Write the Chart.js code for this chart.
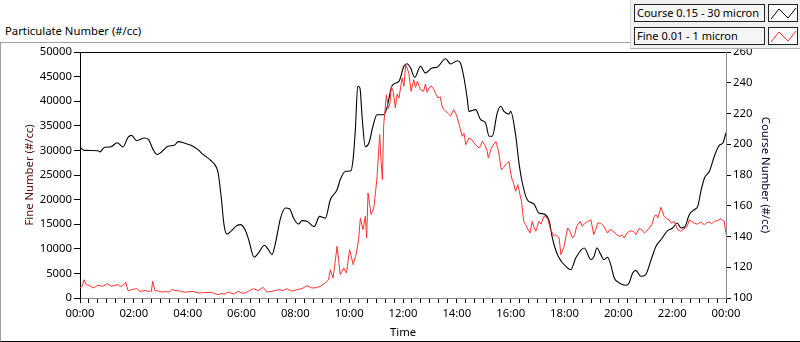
<!DOCTYPE html>
<html>
<head>
<meta charset="utf-8">
<script src="https://cdn.jsdelivr.net/npm/chart.js@4.4.1/dist/chart.umd.min.js"></script>
<style>
  body { margin: 0; background: #fff; font-family: "Segoe UI", "Noto Sans", sans-serif; }
  #wrap { position: relative; width: 800px; height: 342px; overflow: hidden; }
  #frame { position: absolute; left: 0; top: 42px; width: 820px; height: 300px; box-sizing: border-box;
           border-top: 1px solid #a0a0a0; border-left: 1px solid #a0a0a0; border-bottom: 1px solid #000; }
  #title { position: absolute; left: 5px; top: 23px; font-size: 11.3px; line-height: 16px; color: #000; }
  #chart { position: absolute; left: 0; top: 0; }
  #legend { position: absolute; left: 630px; top: 0; width: 170px; height: 49px; background: #f0f0f0;
            border-left: 1px solid #d8d8d8; border-bottom: 1px solid #b0b0b0; box-sizing: border-box; }
  .lab { position: absolute; left: 3px; width: 131px; height: 18px; box-sizing: border-box; border: 1px solid #222;
         background: #f6f6f6; font-size: 11px; line-height: 16px; padding-left: 2px; color: #000; white-space: nowrap; overflow: hidden; }
  .ico { position: absolute; left: 137px; width: 30px; height: 18px; box-sizing: border-box; border: 1px solid #222; background: #fcfcfc; }
</style>
</head>
<body>
<div id="wrap">
  <div id="frame"></div>
  <div id="title">Particulate Number (#/cc)</div>
  <canvas id="chart" width="800" height="342"></canvas>
  <div id="legend"></div>
</div>
<script>
// series names and colours
const seriesNames = ['Course 0.15 - 30 micron', 'Fine 0.01 - 1 micron'];
const seriesColors = ['#000000', '#ff3232'];

// x tick labels, every 2 hours (minutes since midnight)
const hourLabels = ['00:00', '02:00', '04:00', '06:00', '08:00', '10:00', '12:00',
                    '14:00', '16:00', '18:00', '20:00', '22:00', '00:00'];

// Course (right axis, #/cc)
const courseTimes = [0, 10, 40, 44, 55, 69, 83, 96, 107, 115, 126, 144, 153, 163, 172, 182, 196, 210, 219, 234,
  252, 263, 275, 290, 304, 308, 315, 321, 327, 338, 347, 357, 368, 376, 388, 398, 411, 420, 428, 435,
  447, 458, 467, 476, 487, 495, 506, 522, 534, 547, 558, 573, 580, 592, 604, 609, 614, 619, 624, 629,
  636, 644, 653, 662, 676, 683, 696, 711, 722, 729, 737, 746, 759, 770, 785, 796, 815, 826, 841, 848,
  856, 863, 867, 882, 893, 904, 912, 919, 930, 938, 945, 956, 960, 971, 979, 986, 997, 1012, 1023, 1034,
  1046, 1053, 1066, 1087, 1094, 1105, 1124, 1139, 1146, 1152, 1161, 1168, 1176, 1183, 1191, 1202, 1217, 1224, 1232, 1239,
  1250, 1261, 1273, 1284, 1295, 1310, 1321, 1331, 1340, 1349, 1358, 1369, 1377, 1384, 1392, 1403, 1414, 1425, 1433, 1440];
const courseValues = [198, 196, 195.8, 195, 198, 198.4, 201, 198.2, 204.5, 205.8, 202.3, 204.1, 203, 196.5, 193.3, 195, 198.7, 199.3, 201.7, 200.6,
  198.7, 196.5, 193.2, 189.8, 185.1, 181.3, 165, 147.7, 141.6, 143.8, 146.6, 147.7, 144.4, 137.9, 126.5, 129.3, 134.3, 131.4, 128.2, 134.7,
  152, 158.5, 158.1, 152, 148.1, 150.3, 149.9, 146.4, 153.1, 152, 163.9, 170.4, 176.9, 182.4, 182.8, 191.1, 210.6, 237.7, 236.6, 217.1,
  198.4, 200.8, 211.7, 219.2, 219.2, 222.5, 238.3, 240.9, 250.7, 252.4, 249.6, 243.5, 250.7, 246.3, 249.6, 250.1, 255.6, 252.2, 254.3, 252.8,
  243.1, 230.1, 221.4, 222.5, 216, 213.8, 205.2, 205.2, 220.3, 224.7, 221.4, 219.7, 221.4, 206.2, 186.7, 174.8, 163.9, 161.1, 155.3, 154.6,
  149.9, 139, 127.1, 119.5, 118.4, 126, 132.5, 124.9, 127.1, 132.5, 128.2, 124.9, 126.5, 121.7, 113, 109.8, 108.3, 109.8, 116.3, 118,
  114.1, 115.2, 124.9, 133.6, 137.9, 143.8, 145.5, 148.8, 145.5, 146.6, 154.2, 157.4, 159.6, 169.4, 178, 182.4, 192.2, 199.3, 200.8, 207.3];

// Fine (left axis, #/cc)
const fineTimes = [0, 5, 9, 14, 20, 29, 35, 40, 51, 61,
  70, 78, 85, 90, 96, 102, 107, 115, 126, 133,
  145, 152, 159, 162, 167, 175, 182, 190, 200, 205,
  212, 219, 227, 234, 243, 252, 263, 278, 293, 300,
  308, 315, 323, 330, 342, 353, 360, 368, 378, 387,
  397, 408, 417, 430, 443, 452, 461, 472, 484, 495,
  506, 517, 527, 536, 547, 554, 558, 564, 569, 573,
  577, 580, 588, 594, 601, 609, 616, 621, 625, 631,
  636, 639, 642, 649, 655, 662, 668, 671, 674, 677,
  683, 687, 691, 694, 698, 703, 707, 711, 718, 722,
  726, 733, 738, 744, 748, 752, 759, 766, 770, 774,
  778, 783, 789, 793, 798, 803, 808, 813, 819, 826,
  833, 839, 843, 848, 852, 856, 860, 867, 873, 878,
  884, 889, 893, 897, 902, 908, 910, 917, 921, 927,
  933, 939, 944, 949, 956, 962, 966, 971, 976, 984,
  989, 993, 997, 1003, 1008, 1012, 1016, 1023, 1028, 1034,
  1042, 1049, 1057, 1061, 1068, 1072, 1079, 1087, 1092, 1098,
  1103, 1107, 1115, 1119, 1124, 1131, 1139, 1145, 1150, 1154,
  1160, 1165, 1170, 1176, 1181, 1187, 1195, 1202, 1208, 1213,
  1220, 1228, 1234, 1239, 1246, 1252, 1258, 1263, 1269, 1275,
  1280, 1284, 1288, 1295, 1302, 1308, 1313, 1318, 1324, 1328,
  1332, 1339, 1344, 1350, 1354, 1358, 1363, 1369, 1376, 1384,
  1388, 1392, 1397, 1403, 1408, 1414, 1420, 1429, 1432, 1436,
  1440];
const fineValues = [2100, 2400, 3720, 2700, 2600, 2030, 2300, 2580, 2380, 2910,
  2380, 2600, 2700, 2300, 2580, 3190, 1480, 1700, 1890, 1360,
  1500, 1360, 1360, 3390, 1480, 1400, 1220, 1300, 1220, 1770,
  1500, 1480, 1300, 1160, 1300, 1360, 1020, 1100, 1160, 900,
  670, 900, 810, 1220, 810, 1360, 1000, 1020, 1500, 1890,
  1500, 2170, 1220, 1400, 1690, 1500, 1890, 1400, 1690, 1900,
  2500, 2030, 2100, 2380, 3050, 3720, 5750, 4070, 7460, 10500,
  7460, 4740, 6100, 5080, 9820, 6770, 9150, 11850, 16260, 13880,
  16600, 12200, 21340, 16930, 18290, 24390, 33190, 28000, 24050, 35220,
  41320, 38500, 39630, 43000, 42010, 38620, 41500, 40650, 44720, 43000,
  47420, 45730, 42010, 44370, 42800, 44040, 42340, 42010, 43500, 41800,
  42680, 43100, 42340, 41500, 40650, 40900, 38620, 38200, 37600, 37000,
  38280, 37260, 36000, 34210, 32860, 33500, 31160, 32520, 32200, 31500,
  31000, 30490, 30900, 31850, 31200, 29820, 28460, 30490, 31000, 31850,
  29820, 26080, 26500, 27090, 27780, 24390, 23500, 21690, 23030, 19650,
  15590, 14900, 14230, 13210, 15590, 14400, 13560, 15590, 15000, 16600,
  16260, 13880, 12540, 12900, 12200, 8800, 10500, 14230, 13600, 12200,
  12900, 14570, 15590, 14600, 15040, 15500, 15910, 12870, 14000, 15240,
  15200, 14910, 14200, 13210, 13900, 13680, 13000, 12540, 12800, 12200,
  13300, 13680, 13500, 12870, 14090, 13900, 13210, 13600, 14230, 15000,
  16600, 16900, 16260, 18440, 16600, 16100, 15910, 15200, 15590, 14900,
  13880, 13560, 13900, 14230, 14600, 15910, 15600, 15240, 15000, 15450,
  15100, 14910, 15300, 15450, 15100, 15590, 15700, 16120, 15800, 15590,
  13000];

const toPoints = (xs, ys) => xs.map((x, i) => ({ x: x, y: ys[i] }));

// legend panel
const legend = document.getElementById('legend');
seriesNames.forEach((name, i) => {
    const top = i === 0 ? 4 : 27;
    legend.innerHTML +=
        '<div class="lab" style="top:' + top + 'px">' + name + '</div>' +
        '<div class="ico" style="top:' + top + 'px"><svg width="28" height="16">' +
        '<polyline points="2,13 10,3 19,12 27,2" fill="none" stroke="' + seriesColors[i] + '" stroke-width="1"/></svg></div>';
});

// black top edge of the plot frame
const frameTop = {
    id: 'frameTop',
    afterDraw(chart) {
        const a = chart.chartArea, ctx = chart.ctx;
        ctx.save();
        ctx.strokeStyle = '#000';
        ctx.lineWidth = 1;
        ctx.beginPath();
        ctx.moveTo(a.left, a.top + 0.5);
        ctx.lineTo(a.right, a.top + 0.5);
        ctx.stroke();
        ctx.restore();
    }
};

Chart.defaults.font.family = '"Segoe UI", "Noto Sans", sans-serif';
Chart.defaults.font.size = 11.3;
Chart.defaults.color = '#000';

new Chart(document.getElementById('chart'), {
    type: 'line',
    data: {
        datasets: [
            {
                label: seriesNames[1],
                data: toPoints(fineTimes, fineValues),
                yAxisID: 'y',
                borderColor: seriesColors[1],
                borderWidth: 1,
                pointRadius: 0,
                tension: 0
            },
            {
                label: seriesNames[0],
                data: toPoints(courseTimes, courseValues),
                yAxisID: 'yR',
                borderColor: seriesColors[0],
                borderWidth: 1.1,
                pointRadius: 0,
                cubicInterpolationMode: 'monotone'
            }
        ]
    },
    options: {
        responsive: false,
        animation: false,
        layout: { padding: { top: 52 } },
        plugins: { legend: { display: false }, tooltip: { enabled: false } },
        scales: {
            x: {
                type: 'linear',
                min: 0,
                max: 1440,
                afterFit: s => { s.height = 44; },
                border: { color: '#8a8a8a' },
                grid: { drawOnChartArea: false, tickLength: 5, tickColor: '#000' },
                ticks: {
                    stepSize: 20,
                    autoSkip: false,
                    maxRotation: 0,
                    padding: 4,
                    callback: v => (v % 120 === 0 ? hourLabels[v / 120] : '')
                },
                title: { display: true, text: 'Time', padding: { top: 0, bottom: 2 } }
            },
            y: {
                position: 'left',
                min: 0,
                max: 50000,
                afterFit: s => { s.width = 80; },
                border: { color: '#000' },
                grid: { drawOnChartArea: false, tickLength: 6, tickColor: '#000' },
                ticks: { stepSize: 5000, padding: 2, callback: v => String(v) },
                title: { display: true, text: 'Fine Number (#/cc)', color: '#5a0a0a', padding: { top: 23, bottom: 0 } }
            },
            yR: {
                position: 'right',
                min: 100,
                max: 260,
                afterFit: s => { s.width = 74; },
                border: { color: '#8a8a8a' },
                grid: { drawOnChartArea: false, tickLength: 5, tickColor: '#000' },
                ticks: { stepSize: 20, padding: 2 },
                title: { display: true, text: 'Course Number (#/cc)', color: '#000033', padding: { top: 28, bottom: 0 } }
            }
        }
    },
    plugins: [frameTop]
});
</script>
</body>
</html>
